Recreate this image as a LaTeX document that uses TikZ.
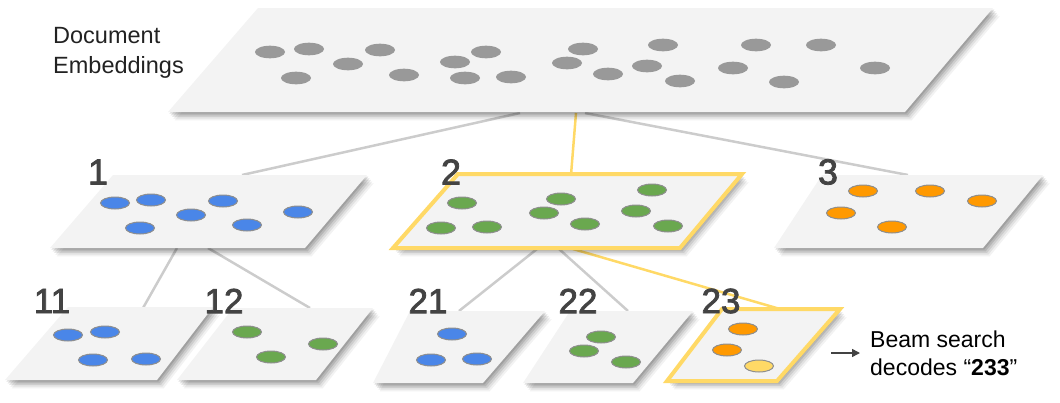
\documentclass[tikz,border=0pt]{standalone}
\usepackage{fontspec}
\setmainfont{Liberation Sans}
\newfontfamily\numfont{Liberation Sans}[FakeBold=2.2]
\usetikzlibrary{arrows.meta}
\definecolor{planefill}{HTML}{F3F3F3}
\definecolor{conngray}{HTML}{CCCCCC}
\definecolor{beamyellow}{HTML}{FFD966}
\definecolor{dotgray}{HTML}{999999}
\definecolor{dotedge}{HTML}{8E8E8E}
\definecolor{dblue}{HTML}{4A86E8}
\definecolor{dgreen}{HTML}{6AA84F}
\definecolor{dorange}{HTML}{FF9900}
\definecolor{dlight}{HTML}{FFD966}
\definecolor{numgray}{HTML}{434343}
\definecolor{txtgray}{HTML}{222222}
\newcommand\planeshadow[4]{%
  \foreach \s/\o in {7.5/0.05,6/0.07,4.5/0.09,3/0.11,1.5/0.12}{%
    \fill[black,opacity=\o,shift={(\s*0.9,\s*1.1)}] (#1) -- (#2) -- (#3) -- (#4) -- cycle;}}
\newcommand\planebody[5][]{%
  \planeshadow{#2}{#3}{#4}{#5}%
  \fill[planefill,#1] (#2) -- (#3) -- (#4) -- (#5) -- cycle;}
\tikzset{
  conn/.style={draw=conngray,line width=2.5pt},
  yconn/.style={draw=beamyellow,line width=2.5pt},
  beamborder/.style={draw=beamyellow,line width=4pt,line join=miter},
  embdot/.style={fill=dotgray},
  cdot/.style={draw=dotedge,line width=1pt},
  numlabel/.style={font=\numfont\fontsize{36}{36}\selectfont,text=numgray,inner sep=0pt},
  numlabelsmall/.style={font=\numfont\fontsize{35}{35}\selectfont,text=numgray,inner sep=0pt},
}
\begin{document}
\begin{tikzpicture}[x=1pt,y=-1pt]
\useasboundingbox (0,0) rectangle (1060,402);

% connector end points
\coordinate (top-a) at (520,113);
\coordinate (top-b) at (576,113);
\coordinate (top-c) at (585,113);
\coordinate (p1-in) at (242,175);
\coordinate (p2-in) at (571,175);
\coordinate (p3-in) at (908,175);
\coordinate (p1-a) at (177,248);
\coordinate (p1-b) at (208,248);
\coordinate (p2-a) at (537,249);
\coordinate (p2-b) at (559,249);
\coordinate (p2-c) at (573,249);
\coordinate (p11-in) at (143,308);
\coordinate (p12-in) at (310,308);
\coordinate (p21-in) at (459,311);
\coordinate (p22-in) at (628,311);
\coordinate (p23-in) at (780,309);

% connectors
\draw[conn] (top-a) -- (p1-in);
\draw[conn] (top-c) -- (p3-in);
\draw[conn] (p1-a) -- (p11-in);
\draw[conn] (p1-b) -- (p12-in);
\draw[conn] (p2-a) -- (p21-in);
\draw[conn] (p2-b) -- (p22-in);
\draw[yconn] (top-b) -- (p2-in);
\draw[yconn] (p2-c) -- (p23-in);

% top plane
\planebody{258,8}{993,8}{905,112}{168,112}
\foreach \p in {(270,52),(309,49),(296,78),(348,64),(380,50),(404,75),(455,62),(486,52),(465,78),(511,77),(583,49),(567,63),(608,74),(663,45),(647,66),(680,81),(756,45),(733,68),(784,82),(821,45),(875,68)}
  \fill[embdot] \p ellipse [x radius=15, y radius=6.3];

% level 1 planes
\planebody{113,175}{367,175}{305,248}{50,248}
\planebody{458,174}{742,174}{680,248}{393,248}
\draw[beamborder] (458,174) -- (742,174) -- (680,248) -- (393,248) -- cycle;
\planebody{822,175}{1043,175}{983,248}{774,248}

\foreach \p in {(115,203),(151,200),(140,228),(191,215),(223,201),(247,225),(298,212)}
  \filldraw[cdot,fill=dblue] \p ellipse [x radius=14.5, y radius=6];
\foreach \p in {(462,203),(441,228),(487,227),(561,199),(544,213),(585,224),(652,190),(636,211),(668,226)}
  \filldraw[cdot,fill=dgreen] \p ellipse [x radius=14.5, y radius=6];
\foreach \p in {(863,191),(930,191),(982,201),(841,213),(892,227)}
  \filldraw[cdot,fill=dorange] \p ellipse [x radius=14.5, y radius=6];

% level 2 planes
\planebody{68,307}{213,307}{157,380}{5,380}
\planebody{233,308}{373,308}{316,380}{177,380}
\planebody{410,311}{545,311}{483,383}{373,383}
\planebody{570,311}{693,311}{633,383}{523,383}
\planebody{722,309}{840,309}{777,381}{667,381}
\draw[beamborder] (722,309) -- (840,309) -- (777,381) -- (667,381) -- cycle;

\foreach \p in {(68,335),(105,332),(93,360),(146,359),(452,334),(431,360),(477,359)}
  \filldraw[cdot,fill=dblue] \p ellipse [x radius=14.5, y radius=6];
\foreach \p in {(247,332),(323,344),(271,357),(601,337),(584,351),(626,362)}
  \filldraw[cdot,fill=dgreen] \p ellipse [x radius=14.5, y radius=6];
\foreach \p in {(743,329),(727,350)}
  \filldraw[cdot,fill=dorange] \p ellipse [x radius=14.5, y radius=6];
\filldraw[cdot,fill=dlight] (759,366) ellipse [x radius=14.5, y radius=6];

% labels
\node[numlabel] (l1) at (98,172) {1};
\node[numlabel] (l2) at (451,172) {2};
\node[numlabel] (l3) at (828,172) {3};
\node[numlabelsmall] (l11) at (52,301) {11};
\node[numlabelsmall] (l12) at (224,301) {12};
\node[numlabelsmall] (l21) at (428,301) {21};
\node[numlabelsmall] (l22) at (578,301) {22};
\node[numlabelsmall] (l23) at (721,301) {23};

\node[anchor=west,align=left,inner sep=0pt,text=txtgray,font=\fontsize{23.5}{30}\selectfont] (docemb) at (53,52.5) {Document\\Embeddings};

\node[anchor=west,align=left,inner sep=0pt,text=black,font=\fontsize{23}{28}\selectfont] (beam) at (870,353) {Beam search\\decodes “\textbf{233}”};
\coordinate (arrow-start) at (831,353);
\draw[-{Triangle[length=8pt,width=8pt]},draw=numgray,fill=numgray,line width=1.5pt,shorten >=10pt] (arrow-start) -- (beam.west);
\end{tikzpicture}
\end{document}
